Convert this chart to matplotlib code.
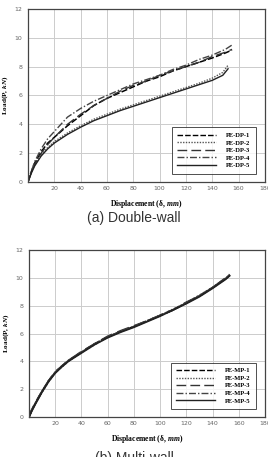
import matplotlib
matplotlib.use("Agg")
import matplotlib.pyplot as plt

plt.rcParams["mathtext.fontset"] = "custom"
plt.rcParams["mathtext.rm"] = "Liberation Serif:bold"
plt.rcParams["mathtext.it"] = "Liberation Serif:bold:italic"

# (a) double-wall specimens
dp_disp_hi = [0, 2, 5, 10, 15, 20, 30, 40, 50, 60, 70, 80, 90, 100, 110, 120, 130, 140, 150, 155]
dp_disp_lo = [0, 2, 5, 10, 15, 20, 30, 40, 50, 60, 70, 80, 90, 100, 110, 120, 130, 140, 148, 152]
dp1 = [0, 0.6, 1.3, 2.1, 2.7, 3.1, 3.9, 4.6, 5.3, 5.8, 6.2, 6.6, 7.0, 7.3, 7.7, 8.0, 8.3, 8.6, 8.95, 9.15]
dp2 = [0, 0.5, 1.2, 1.9, 2.4, 2.8, 3.4, 3.9, 4.35, 4.7, 5.05, 5.35, 5.65, 5.95, 6.25, 6.55, 6.85, 7.2, 7.6, 8.1]
dp3 = [0, 0.5, 1.2, 2.0, 2.6, 3.1, 4.0, 4.7, 5.3, 5.8, 6.3, 6.7, 7.0, 7.4, 7.7, 8.0, 8.3, 8.7, 9.0, 9.2]
dp4 = [0, 0.6, 1.4, 2.3, 3.0, 3.5, 4.5, 5.1, 5.6, 6.0, 6.4, 6.8, 7.1, 7.4, 7.8, 8.1, 8.5, 8.8, 9.2, 9.5]
dp5 = [0, 0.5, 1.1, 1.8, 2.3, 2.7, 3.3, 3.8, 4.25, 4.6, 4.95, 5.25, 5.55, 5.85, 6.15, 6.45, 6.75, 7.05, 7.4, 7.85]

# (b) multi-wall specimens (curves coincide)
mp_disp = [0, 2, 5, 10, 15, 20, 25, 30, 40, 50, 60, 70, 80, 90, 100, 110, 120, 130, 140, 150, 153]
mp1 = [0, 0.45, 1.0, 1.85, 2.6, 3.2, 3.65, 4.05, 4.65, 5.25, 5.75, 6.15, 6.5, 6.9, 7.3, 7.7, 8.2, 8.7, 9.3, 9.95, 10.2]
mp2 = [0, 0.45, 1.0, 1.8, 2.55, 3.2, 3.6, 4.0, 4.65, 5.2, 5.75, 6.15, 6.5, 6.9, 7.3, 7.75, 8.2, 8.75, 9.3, 9.95, 10.2]
mp3 = [0, 0.5, 1.05, 1.85, 2.6, 3.25, 3.65, 4.05, 4.7, 5.25, 5.8, 6.2, 6.55, 6.9, 7.3, 7.7, 8.25, 8.7, 9.3, 10.0, 10.25]
mp4 = [0, 0.45, 1.0, 1.85, 2.6, 3.2, 3.65, 4.05, 4.65, 5.25, 5.75, 6.15, 6.5, 6.9, 7.3, 7.7, 8.2, 8.7, 9.3, 9.95, 10.2]
mp5 = [0, 0.4, 0.95, 1.8, 2.55, 3.15, 3.6, 4.0, 4.6, 5.2, 5.7, 6.1, 6.45, 6.85, 7.25, 7.7, 8.15, 8.65, 9.25, 9.9, 10.15]

styles = [
    dict(color="#000000", linestyle=(0, (4, 1.5)), lw=1.1),
    dict(color="#555555", linestyle=(0, (1, 1)), lw=1.0),
    dict(color="#333333", linestyle=(0, (7, 3)), lw=1.0),
    dict(color="#444444", linestyle=(0, (5, 1.5, 1, 1.5)), lw=1.0),
    dict(color="#222222", linestyle="-", lw=1.0),
]

fig = plt.figure(figsize=(2.68, 4.57), dpi=100)
ax_a = fig.add_axes([0.1045, 0.6018, 0.884, 0.3786])
ax_b = fig.add_axes([0.108, 0.0875, 0.881, 0.3654])


def style_axes(ax):
    ax.set_xlim(0, 180)
    ax.set_ylim(0, 12)
    ax.set_xticks(range(20, 181, 20))
    ax.set_yticks(range(0, 13, 2))
    ax.grid(color="#cccccc", lw=0.7)
    ax.set_axisbelow(True)
    ax.tick_params(length=0, labelsize=4.5, labelcolor="#666666")
    ax.tick_params(axis="x", pad=3)
    ax.tick_params(axis="y", pad=4)
    for s in ax.spines.values():
        s.set_color("#444444")
        s.set_linewidth(0.9)
    ax.set_xlabel("Displacement (δ, $\\mathit{mm}$)", family="Liberation Serif",
                  weight="bold", fontsize=5.5)
    ax.set_ylabel("Load(P, $\\mathit{kN}$)", family="Liberation Serif",
                  weight="bold", fontsize=5.2)
    ax.xaxis.set_label_coords(0.5, -0.095)
    ax.yaxis.set_label_coords(-0.075, 0.5)


dp_curves = [(dp_disp_hi, dp1), (dp_disp_lo, dp2), (dp_disp_hi, dp3), (dp_disp_hi, dp4), (dp_disp_lo, dp5)]
for i, ((x, y), st) in enumerate(zip(dp_curves, styles)):
    ax_a.plot(x, y, label=f"PE-DP-{i + 1}", **st)

mp_curves = [mp1, mp2, mp3, mp4, mp5]
for i, (y, st) in enumerate(zip(mp_curves, styles)):
    st = dict(st, lw=1.3)
    ax_b.plot(mp_disp, y, label=f"PE-MP-{i + 1}", **st)

for ax in (ax_a, ax_b):
    style_axes(ax)
    leg = ax.legend(loc="lower right", bbox_to_anchor=(0.975, 0.03),
                    prop=dict(family="Liberation Serif", weight="bold", size=4.7),
                    frameon=True, fancybox=False, edgecolor="#222222",
                    handlelength=6, handletextpad=1.5, borderpad=0.8, labelspacing=0.3)
    leg.get_frame().set_linewidth(0.7)
    for h in leg.get_lines():
        h.set_linewidth(1.0)

fig.text(0.5, 0.523, "(a) Double-wall", ha="center", va="center",
         family="Liberation Sans", fontsize=10, color="#333333")
fig.text(0.5, 0.013, "(b) Multi-wall", ha="center", va="top",
         family="Liberation Sans", fontsize=10, color="#333333")

fig.savefig("out.png", dpi=100)
